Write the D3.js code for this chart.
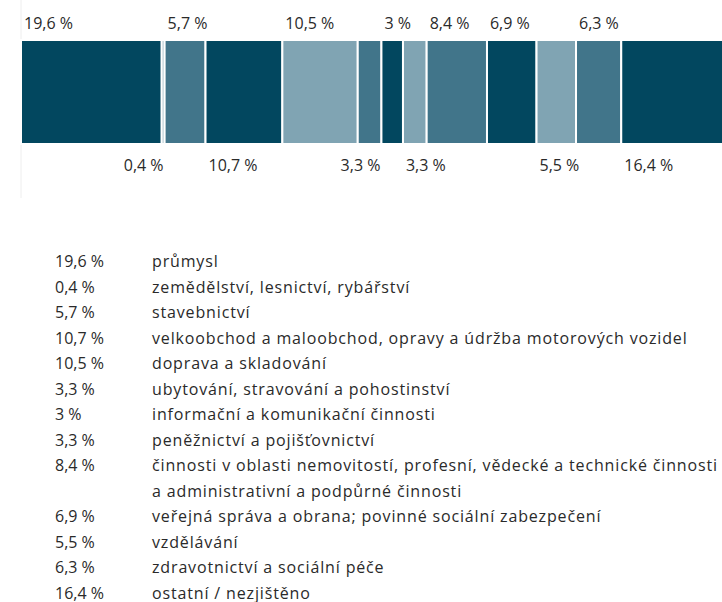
<!DOCTYPE html>
<html>
<head>
<meta charset="utf-8">
<script src="https://cdn.jsdelivr.net/npm/d3@7"></script>
<style>
  html, body { margin: 0; padding: 0; background: #fff; overflow: hidden; }
  svg { display: block; font-family: "Open Sans", Lato, sans-serif; }
</style>
</head>
<body>
<svg id="chart" width="722" height="602"></svg>
<script>
const categories = [
  "průmysl",
  "zemědělství, lesnictví, rybářství",
  "stavebnictví",
  "velkoobchod a maloobchod, opravy a údržba motorových vozidel",
  "doprava a skladování",
  "ubytování, stravování a pohostinství",
  "informační a komunikační činnosti",
  "peněžnictví a pojišťovnictví",
  "činnosti v oblasti nemovitostí, profesní, vědecké a technické činnosti\na administrativní a podpůrné činnosti",
  "veřejná správa a obrana; povinné sociální zabezpečení",
  "vzdělávání",
  "zdravotnictví a sociální péče",
  "ostatní / nezjištěno"
];
const values = [19.6, 0.4, 5.7, 10.7, 10.5, 3.3, 3, 3.3, 8.4, 6.9, 5.5, 6.3, 16.4];
const labelSide = ["top","bottom","top","bottom","top","bottom","top","bottom","top","top","bottom","top","bottom"];
const labelAnchor = ["start","end","start","start","start","end","start","start","start","start","start","start","start"];
const palette = ["#02475f", "#80a4b3", "#41758a"];

const cz = d3.formatLocale({decimal: ",", thousands: "\u00a0", grouping: [3], currency: ["", " Kč"]});
const fmt = v => cz.format("~")(v) + " %";

const svg = d3.select("#chart");
const x = d3.scaleLinear().domain([0, 100]).range([21, 739]);
const color = d3.scaleOrdinal().domain(categories).range(palette);

const starts = values.map((v, i) => d3.sum(values.slice(0, i)));
const data = values.map((v, i) => ({cat: categories[i], v, s: starts[i], e: starts[i] + v, side: labelSide[i], anchor: labelAnchor[i]}));

// faint baseline at left
svg.append("line")
  .attr("x1", x(0)).attr("x2", x(0))
  .attr("y1", 0).attr("y2", 198)
  .attr("stroke", "#eeeeee").attr("stroke-width", 1);

svg.append("g").selectAll("rect").data(data).join("rect")
  .attr("x", d => x(d.s))
  .attr("y", 40)
  .attr("width", d => x(d.e) - x(d.s))
  .attr("height", 104)
  .attr("fill", d => color(d.cat))
  .attr("stroke", "#fff")
  .attr("stroke-width", 2);

svg.append("g").selectAll("text").data(data).join("text")
  .attr("x", d => d.anchor === "end" ? x(d.e) - 1 : x(d.s) + 3)
  .attr("y", d => d.side === "top" ? 29 : 171)
  .attr("text-anchor", d => d.anchor)
  .attr("font-size", 16)
  .attr("fill", "#2a2a2a")
  .text(d => fmt(d.v));

// legend
const rowH = 25.5;
let line = 0;
const leg = svg.append("g");
data.forEach(d => {
  const y = 267 + line * rowH;
  leg.append("text")
    .attr("x", 55).attr("y", y)
    .attr("font-size", 16).attr("fill", "#2a2a2a")
    .text(fmt(d.v));
  const lines = d.cat.split("\n");
  const t = leg.append("text")
    .attr("x", 152).attr("y", y)
    .attr("font-size", 16).attr("letter-spacing", 0.85).attr("fill", "#2a2a2a");
  lines.forEach((l, j) => {
    t.append("tspan").attr("x", 152).attr("y", y + j * rowH).text(l);
  });
  line += lines.length;
});
</script>
</body>
</html>
